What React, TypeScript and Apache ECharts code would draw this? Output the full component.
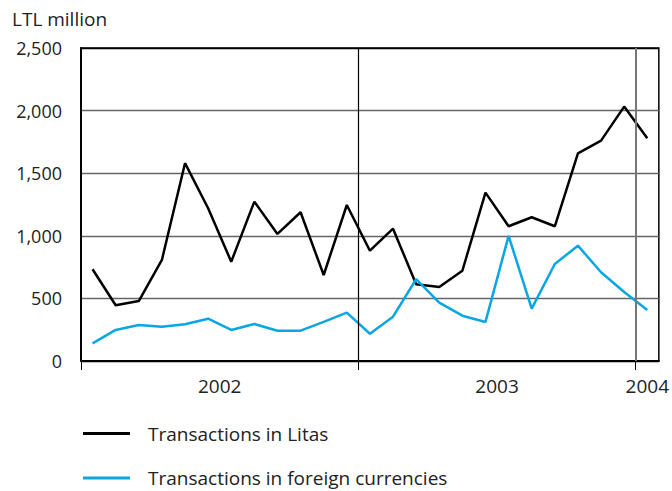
import React, { useEffect, useRef } from "react";
import * as echarts from "echarts";

const months = [
  "2002-01", "2002-02", "2002-03", "2002-04", "2002-05", "2002-06",
  "2002-07", "2002-08", "2002-09", "2002-10", "2002-11", "2002-12",
  "2003-01", "2003-02", "2003-03", "2003-04", "2003-05", "2003-06",
  "2003-07", "2003-08", "2003-09", "2003-10", "2003-11", "2003-12",
  "2004-01",
];
const litas = [
  733, 445, 479, 807, 1580, 1220, 793, 1273, 1015, 1188, 687, 1246,
  881, 1057, 613, 591, 721, 1345, 1076, 1148, 1076, 1659, 1760, 2032,
  1779,
];
const foreign = [
  141, 248, 288, 274, 293, 338, 248, 296, 242, 242, 312, 386,
  218, 354, 653, 466, 362, 312, 999, 418, 775, 921, 709, 551,
  407,
];
const yearLabels = ["2002", "2003", "2004"];
const seriesNames = ["Transactions in Litas", "Transactions in foreign currencies"];

const FONT = "'Open Sans', sans-serif";

export default function App() {
  const ref = useRef<HTMLDivElement>(null);
  useEffect(() => {
    if (!ref.current) return;
    const chart = echarts.init(ref.current, undefined, { renderer: "svg" });
    const yearStart: Record<string, number> = {};
    const yearCount: Record<string, number> = {};
    months.forEach((m, i) => {
      const y = m.slice(0, 4);
      if (yearStart[y] === undefined) yearStart[y] = i;
      yearCount[y] = (yearCount[y] || 0) + 1;
    });
    const labelPos = yearLabels.map((y) => yearStart[y] + yearCount[y] / 2);
    const boundaries = yearLabels.slice(1).map((y) => yearStart[y]);
    const toData = (arr: number[]) => arr.map((v, i) => [i + 0.5, v]);

    chart.setOption({
      animation: false,
      textStyle: { fontFamily: FONT },
      title: {
        text: "LTL million",
        left: 7,
        top: 4,
        textStyle: { fontFamily: FONT, fontSize: 19, fontWeight: "normal", color: "#222" },
      },
      grid: {
        left: 81,
        right: 13,
        top: 48,
        bottom: 130,
        show: true,
        borderColor: "#000",
        borderWidth: 1.5,
      },
      legend: {
        orient: "vertical",
        left: 83,
        top: 424,
        padding: 0,
        itemWidth: 47,
        itemHeight: 3,
        itemGap: 25.5,
        icon: "rect",
        data: seriesNames,
        textStyle: {
          fontFamily: FONT,
          fontSize: 19,
          color: "#222",
          lineHeight: 19,
          padding: [0, 0, 0, 13],
        },
      },
      xAxis: {
        type: "value",
        min: 0,
        max: months.length,
        interval: 0.5,
        axisLine: { show: true, onZero: false, lineStyle: { color: "#000", width: 2 } },
        axisTick: {
          show: true,
          customValues: [0, ...boundaries],
          length: 9,
          lineStyle: { color: "#000", width: 1 },
        },
        axisLabel: {
          customValues: labelPos,
          formatter: (v: number) => {
            const idx = labelPos.findIndex((p) => Math.abs(p - v) < 1e-6);
            return idx >= 0 ? yearLabels[idx] : "";
          },
          margin: 15,
          fontFamily: FONT,
          fontSize: 19,
          color: "#222",
        },
        splitLine: { show: false },
      },
      yAxis: {
        type: "value",
        min: 0,
        max: 2500,
        interval: 500,
        axisLine: { show: true, lineStyle: { color: "#000", width: 2 } },
        axisTick: { show: false },
        axisLabel: {
          margin: 19,
          fontFamily: FONT,
          fontSize: 18,
          color: "#222",
          formatter: (v: number) => v.toLocaleString("en-US"),
        },
        splitLine: {
          show: true,
          lineStyle: {
            color: ["#000", "#666", "#666", "#666", "#666", "#000"],
            width: 1.3,
          },
        },
      },
      series: [
        {
          name: seriesNames[0],
          type: "line",
          data: toData(litas),
          symbol: "none",
          lineStyle: { color: "#000", width: 2.5 },
          itemStyle: { color: "#000" },
          z: 3,
          markLine: {
            silent: true,
            symbol: "none",
            label: { show: false },
            data: boundaries.map((b, i) => ({
              xAxis: b,
              lineStyle: { color: i === 0 ? "#000" : "#777", width: i === 0 ? 1.2 : 2, type: "solid" },
            })),
          },
        },
        {
          name: seriesNames[1],
          type: "line",
          data: toData(foreign),
          symbol: "none",
          lineStyle: { color: "#0aa6e4", width: 2.5 },
          itemStyle: { color: "#0aa6e4" },
          z: 4,
        },
      ],
    });
    return () => chart.dispose();
  }, []);
  return <div ref={ref} style={{ width: 672, height: 491, position: "absolute", left: 0, top: 0 }} />;
}
